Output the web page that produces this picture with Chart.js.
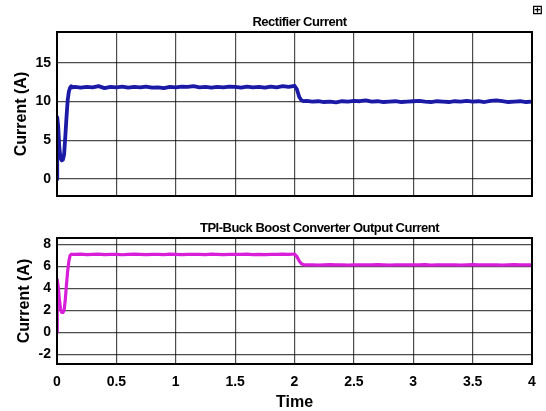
<!DOCTYPE html>
<html>
<head>
<meta charset="utf-8">
<script src="https://cdn.jsdelivr.net/npm/chart.js@4.4.1/dist/chart.umd.min.js"></script>
<style>
  body { margin: 0; background: #fff; }
  #wrap { position: relative; width: 546px; height: 411px; }
  #c1 { position: absolute; left: 0; top: 0; }
  #c2 { position: absolute; left: 0; top: 205px; }
  #icon { position: absolute; left: 532px; top: 2px; font: bold 13px "DejaVu Sans"; color: #000; }
</style>
</head>
<body>
<div id="wrap">
  <canvas id="c1" width="546" height="205"></canvas>
  <canvas id="c2" width="546" height="206"></canvas>
  <span id="icon">⊞</span>
</div>
<script>
// time axis (s)
const time = [
  0, 0.002, 0.01, 0.02, 0.03, 0.04, 0.05, 0.06, 0.07, 0.08, 0.09, 0.10, 0.11, 0.12, 0.13,
  0.15, 0.2, 0.25, 0.3, 0.35, 0.4, 0.45, 0.5, 0.55, 0.6,
  0.65, 0.7, 0.75, 0.8, 0.85, 0.9, 0.95, 1.0, 1.05, 1.1,
  1.15, 1.2, 1.25, 1.3, 1.35, 1.4, 1.45, 1.5, 1.55, 1.6,
  1.65, 1.7, 1.75, 1.8, 1.85, 1.9, 1.95, 2.0,
  2.02, 2.04, 2.06, 2.08, 2.1,
  2.15, 2.2, 2.25, 2.3, 2.35, 2.4, 2.45, 2.5, 2.55, 2.6,
  2.65, 2.7, 2.75, 2.8, 2.85, 2.9, 2.95, 3.0, 3.05, 3.1,
  3.15, 3.2, 3.25, 3.3, 3.35, 3.4, 3.45, 3.5, 3.55, 3.6,
  3.65, 3.7, 3.75, 3.8, 3.85, 3.9, 3.95, 4.0
];

const rectifierCurrent = [
  0, 8.0, 6.8, 4.0, 2.7, 2.4, 2.5, 3.2, 5.5, 8.0, 10.2, 11.3, 11.8, 12.0, 11.85,
  11.9, 11.8, 11.9, 11.85, 12.0, 11.75, 11.9, 11.85, 11.95, 11.8,
  11.9, 11.85, 11.95, 11.8, 11.85, 11.75, 11.9, 11.85, 11.95, 11.9,
  12.0, 11.85, 11.9, 11.8, 11.9, 11.85, 11.95, 11.9, 11.8, 11.95,
  11.85, 11.9, 11.8, 11.95, 11.85, 12.0, 11.9, 12.05,
  11.6, 10.6, 10.15, 10.05, 10.1,
  10.0, 10.05, 9.95, 10.0, 9.9, 10.05, 10.0, 10.1, 10.05, 10.15,
  10.0, 10.05, 9.95, 10.0, 10.05, 9.95, 10.0, 10.05, 10.1, 10.0,
  9.95, 10.05, 10.0, 9.95, 10.05, 10.0, 10.1, 10.0, 10.05, 9.95,
  10.1, 10.15, 10.05, 9.95, 10.0, 10.05, 9.95, 10.0
];

const outputCurrent = [
  0, 4.8, 4.2, 3.0, 2.1, 1.8, 1.8, 2.0, 3.0, 4.4, 5.6, 6.5, 7.0, 7.12, 7.1,
  7.1, 7.12, 7.08, 7.1, 7.13, 7.09, 7.1, 7.11, 7.07, 7.1,
  7.12, 7.1, 7.08, 7.11, 7.1, 7.09, 7.12, 7.1, 7.08, 7.1,
  7.11, 7.1, 7.09, 7.12, 7.1, 7.08, 7.1, 7.11, 7.1, 7.12,
  7.09, 7.1, 7.08, 7.11, 7.1, 7.12, 7.1, 7.14,
  6.9, 6.5, 6.22, 6.15, 6.16,
  6.15, 6.13, 6.15, 6.17, 6.14, 6.15, 6.13, 6.16, 6.15, 6.14,
  6.15, 6.17, 6.15, 6.13, 6.15, 6.16, 6.14, 6.15, 6.15, 6.17,
  6.13, 6.15, 6.16, 6.14, 6.15, 6.13, 6.15, 6.17, 6.15, 6.14,
  6.16, 6.15, 6.13, 6.15, 6.17, 6.15, 6.14, 6.15
];

const timeTicks = [0, 0.5, 1, 1.5, 2, 2.5, 3, 3.5, 4];
const rectTicks = [0, 5, 10, 15];
const outTicks = [-2, 0, 2, 4, 6, 8];

const FONT = '"Liberation Sans", Arial, sans-serif';

// black box around the axes, like matlab
const framePlugin = {
  id: 'frame',
  afterDraw(chart) {
    const a = chart.chartArea, ctx = chart.ctx;
    ctx.save();
    ctx.strokeStyle = '#000';
    ctx.lineWidth = 2;
    ctx.strokeRect(a.left, a.top, a.right - a.left, a.bottom - a.top);
    ctx.restore();
  }
};

// small title above the axes
const axTitle = {
  id: 'axTitle',
  afterDraw(chart, args, opts) {
    const a = chart.chartArea, ctx = chart.ctx;
    ctx.save();
    ctx.font = 'bold 13px ' + FONT;
    ctx.letterSpacing = '-0.5px';
    ctx.fillStyle = '#000';
    ctx.textAlign = 'center';
    ctx.textBaseline = 'middle';
    ctx.fillText(opts.text, (a.left + a.right) / 2 + opts.dx, a.top - 10);
    ctx.restore();
  }
};

function makeChart(id, values, color, lw, yTicks, yMin, yMax, title, dx, bottomAxis, padTop, yTitlePad) {
  return new Chart(document.getElementById(id), {
    type: 'line',
    data: {
      datasets: [{
        data: time.map((t, i) => ({ x: t, y: values[i] })),
        borderColor: color,
        borderWidth: lw,
        pointRadius: 0,
        tension: 0,
        borderJoinStyle: 'round',
        borderCapStyle: 'round'
      }]
    },
    plugins: [framePlugin, axTitle],
    options: {
      responsive: false,
      animation: false,
      layout: { padding: { top: padTop, right: 14, left: 0, bottom: 0 } },
      plugins: {
        legend: { display: false },
        tooltip: { enabled: false },
        axTitle: { text: title, dx: dx }
      },
      scales: {
        x: {
          type: 'linear',
          min: 0,
          max: 4,
          afterBuildTicks: s => { s.ticks = timeTicks.map(v => ({ value: v })); },
          afterFit: s => { s.height = bottomAxis ? 47 : 9; },
          grid: { color: 'rgba(0,0,0,0.7)', lineWidth: 1.2, drawTicks: false },
          border: { display: false },
          ticks: {
            display: bottomAxis,
            maxRotation: 0,
            padding: 10,
            color: '#000',
            font: { family: FONT, size: 14, weight: 'bold' },
            callback: v => String(v)
          },
          title: {
            display: bottomAxis,
            text: 'Time',
            color: '#000',
            font: { family: FONT, size: 16, weight: 'bold', lineHeight: 1 },
            padding: { top: 0, bottom: 0 }
          }
        },
        y: {
          min: yMin,
          max: yMax,
          afterBuildTicks: s => { s.ticks = yTicks.map(v => ({ value: v })); },
          afterFit: s => { s.width = 57; s.paddingTop = 0; s.paddingBottom = 0; },
          grid: { color: 'rgba(0,0,0,0.7)', lineWidth: 1.2, drawTicks: false },
          border: { display: false },
          ticks: {
            padding: 6,
            color: '#000',
            font: { family: FONT, size: 14, weight: 'bold' },
            callback: v => String(v)
          },
          title: {
            display: true,
            text: 'Current (A)',
            color: '#000',
            font: { family: FONT, size: 16, weight: 'bold' },
            padding: { top: yTitlePad, bottom: 0 }
          }
        }
      }
    }
  });
}

makeChart('c1', rectifierCurrent, '#1a1aa6', 3.8, rectTicks, -2.2, 19, 'Rectifier Current', 5, false, 32, 12);
makeChart('c2', outputCurrent, '#d81ed8', 3.2, outTicks, -2.9, 8.6, 'TPI-Buck Boost Converter Output Current', 25, true, 33, 15);
</script>
</body>
</html>
